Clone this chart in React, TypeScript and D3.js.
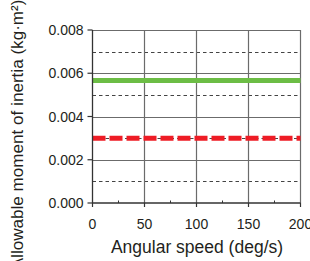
import React from "react";
import * as d3 from "d3";

const xTicks = [0, 50, 100, 150, 200];
const xMinorTicks = [25, 75, 125, 175];
const yTicks = [0, 0.002, 0.004, 0.006, 0.008];
const yDashed = [0.001, 0.003, 0.005, 0.007];
const speeds = [0, 200];
const greenValues = [0.00566, 0.00566];
const redValues = [0.003, 0.003];
const xTitle = "Angular speed (deg/s)";
const yTitle = "Allowable moment of inertia (kg·m²)";

export default function App() {
  const W = 310, H = 261;
  const x = d3.scaleLinear().domain([0, 200]).range([92.5, 300.5]);
  const y = d3.scaleLinear().domain([0, 0.008]).range([203, 30]);
  const line = d3.line<[number, number]>().x(d => x(d[0])).y(d => y(d[1]));
  const green = line(speeds.map((s, i) => [s, greenValues[i]]));
  const red = line(speeds.map((s, i) => [s, redValues[i]]));
  const font = "Liberation Sans, Arial, sans-serif";
  const grid = "#6b6b6b";
  return (
    <svg width={W} height={H} style={{ position: "absolute", left: 0, top: 0, background: "#fff" }} fontFamily={font}>
      {yDashed.map(v => (
        <line key={"d" + v} x1={x(0)} x2={x(200)} y1={Math.round(y(v)) + 0.5} y2={Math.round(y(v)) + 0.5}
          stroke="#444" strokeWidth={1} strokeDasharray="3.5,3" />
      ))}
      {yTicks.slice(1).map(v => (
        <line key={"h" + v} x1={x(0)} x2={x(200)} y1={Math.round(y(v)) + 0.5} y2={Math.round(y(v)) + 0.5}
          stroke={grid} strokeWidth={1.2} />
      ))}
      {xTicks.slice(1).map(v => (
        <line key={"v" + v} x1={x(v)} x2={x(v)} y1={y(0)} y2={y(0.008)} stroke={grid} strokeWidth={1.2} />
      ))}
      {xMinorTicks.map(v => (
        <line key={"m" + v} x1={x(v)} x2={x(v)} y1={y(0)} y2={y(0) - 2.5} stroke="#333" strokeWidth={1} />
      ))}
      <path d={green || ""} stroke="#6cbd45" strokeWidth={5} fill="none" />
      <path d={red || ""} stroke="#ee1c25" strokeWidth={5} fill="none" strokeDasharray="13,4" />
      <line x1={x(0)} x2={x(0)} y1={y(0.008)} y2={y(0)} stroke="#333" strokeWidth={1.3} />
      <line x1={x(0)} x2={x(200)} y1={y(0)} y2={y(0)} stroke="#333" strokeWidth={1.3} />
      {xTicks.map(v => (
        <g key={"xt" + v}>
          <line x1={x(v)} x2={x(v)} y1={y(0)} y2={y(0) + 4} stroke="#333" strokeWidth={1.2} />
          <text x={x(v)} y={228.5} textAnchor="middle" fontSize={14} fill="#231f20">{v}</text>
        </g>
      ))}
      {yTicks.map(v => (
        <g key={"yt" + v}>
          <line x1={x(0) - 5} x2={x(0)} y1={y(v)} y2={y(v)} stroke="#333" strokeWidth={1.2} />
          <text x={83.5} y={y(v) + 5} textAnchor="end" fontSize={14} fill="#231f20">{d3.format(".3f")(v)}</text>
        </g>
      ))}
      <text x={197} y={252.5} textAnchor="middle" fontSize={17.5} fill="#231f20">{xTitle}</text>
      <text transform="translate(22.5,-0.5) rotate(-90)" textAnchor="end" fontSize={17.1} fill="#231f20">{yTitle}</text>
    </svg>
  );
}
